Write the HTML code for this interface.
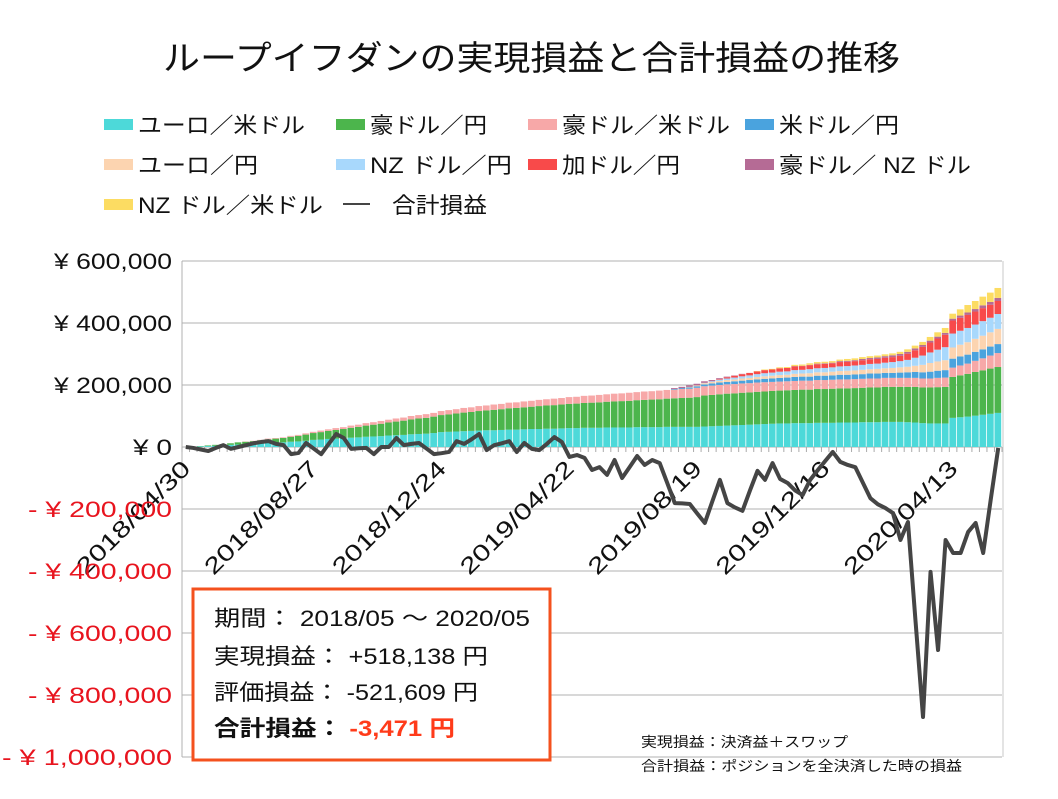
<!DOCTYPE html>
<html><head><meta charset="utf-8"><style>
body{margin:0;width:1058px;height:794px;background:#fff;overflow:hidden;font-family:"Liberation Sans","Noto Sans CJK JP",sans-serif;}
</style></head><body>
<svg id="chart" width="1058" height="794" xmlns="http://www.w3.org/2000/svg" font-family="Liberation Sans, Noto Sans CJK JP, sans-serif">
<text x="163" y="70" font-size="34" textLength="737" lengthAdjust="spacingAndGlyphs" fill="#111">ループイフダンの実現損益と合計損益の推移</text>
<g id="legend"></g>
<g id="grid"></g>
<g id="bars"></g>
<g id="xaxis"></g>
<g id="yaxis"></g>
<g id="line"></g>
<rect x="193" y="589" width="357" height="171" fill="#fff" stroke="#f4511e" stroke-width="3"/>
<text x="214" y="626" font-size="22" textLength="316" lengthAdjust="spacingAndGlyphs" fill="#111">期間： 2018/05 ～ 2020/05</text>
<text x="214" y="664" font-size="22" textLength="274" lengthAdjust="spacingAndGlyphs" fill="#111">実現損益： +518,138 円</text>
<text x="214" y="700" font-size="22" textLength="264" lengthAdjust="spacingAndGlyphs" fill="#111">評価損益： -521,609 円</text>
<text x="214" y="736" font-size="22" font-weight="bold" textLength="241" lengthAdjust="spacingAndGlyphs" fill="#111">合計損益： <tspan fill="#ff3b1a">-3,471 円</tspan></text>
<text x="641" y="747" font-size="14" textLength="207" lengthAdjust="spacingAndGlyphs" fill="#111">実現損益：決済益＋スワップ</text>
<text x="641" y="771" font-size="14" textLength="321" lengthAdjust="spacingAndGlyphs" fill="#111">合計損益：ポジションを全決済した時の損益</text>
</svg>
<script>
const seriesNames=["ユーロ／米ドル","豪ドル／円","豪ドル／米ドル","米ドル／円","ユーロ／円","NZ ドル／円","加ドル／円","豪ドル／ NZ ドル","NZ ドル／米ドル"];
const seriesColors=["#4dd9d9","#4cb54c","#f7a8a8","#4aa3de","#fcd4b0","#a8d8fc","#f84a4a","#b56b95","#fcdc62"];
const eurusd=[0,1,2,3,4,5,7,8,9,10,12,13,14,15,17,18,20,23,24,26,27,28,30,31,33,34,35,37,38,39,41,42,43,45,48,49,50,51,52,53,54,54,55,56,56,57,58,58,59,59,60,61,61,62,62,62,63,63,63,63,64,64,64,64,65,65,65,65,65,66,67,68,69,70,71,72,73,74,75,76,76,77,77,77,78,78,78,79,79,79,80,80,80,81,81,81,80,79,77,76,76,76,94,96,98,101,104,107,110];
const audjpy=[0,0,1,2,3,4,5,7,8,9,10,12,13,14,16,18,20,22,24,26,28,30,32,34,36,38,40,42,44,46,48,50,51,53,55,56,58,60,61,63,64,66,67,69,70,71,72,74,75,76,77,78,79,80,81,82,83,84,85,86,87,88,89,90,91,92,93,94,96,100,101,102,103,103,104,104,105,105,106,106,107,107,108,108,109,109,110,110,110,111,111,112,112,113,113,113,114,115,115,116,117,118,132,135,138,141,143,146,148];
const audusd=[0,0,0,0,0,0,0,0,1,1,1,2,2,2,3,3,4,4,5,5,6,6,7,7,8,8,9,9,10,10,11,11,12,12,13,14,14,15,15,16,16,17,17,18,18,19,19,20,20,21,21,22,22,23,23,24,24,25,25,26,26,27,27,28,28,28,29,29,30,30,30,30,30,30,30,30,30,30,29,29,29,29,29,29,29,29,29,29,29,29,29,29,29,29,29,29,29,29,29,29,30,30,30,32,33,36,39,42,45,48];
const usdjpy=[0,0,0,0,0,0,0,0,0,0,0,0,0,0,0,0,0,0,0,0,0,0,0,0,0,0,0,0,0,0,0,0,0,0,0,0,0,0,0,0,0,0,0,0,0,0,0,0,0,0,0,0,0,0,0,0,0,0,0,0,0,0,0,0,0,2,3,4,5,6,7,8,8,9,9,10,10,11,11,12,12,13,13,13,14,14,14,15,15,15,15,16,16,16,16,17,18,19,20,22,23,24,29,29,29,29,29,29,29];
const eurjpy=[0,0,0,0,0,0,0,0,0,0,0,0,0,0,0,0,0,0,0,0,0,0,0,0,0,0,0,0,0,0,0,0,0,0,0,0,0,0,0,0,0,0,0,0,0,0,0,0,0,0,0,0,0,0,0,0,0,0,0,0,0,0,0,0,0,0,0,2,3,4,5,5,6,6,7,7,8,8,9,9,9,10,10,11,11,11,12,12,13,13,14,14,15,15,16,17,18,20,24,28,30,32,36,38,40,42,44,46,49];
const nzdjpy=[0,0,0,0,0,0,0,0,0,0,0,0,0,0,0,0,0,0,0,0,0,0,0,0,0,0,0,0,0,0,0,0,0,0,0,0,0,0,0,0,0,0,0,0,0,0,0,0,0,0,0,0,0,0,0,0,0,0,0,0,0,0,0,0,0,0,0,0,0,1,2,4,5,6,7,8,9,10,10,11,11,12,12,13,13,14,14,15,15,16,16,17,17,18,19,20,22,26,30,34,38,42,45,45,46,46,47,47,48];
const cadjpy=[0,0,0,0,0,0,0,0,0,0,0,0,0,0,0,0,0,0,0,0,0,0,0,0,0,0,0,0,0,0,0,0,0,0,0,0,0,0,0,0,0,0,0,0,0,0,0,0,0,0,0,0,0,0,0,0,0,0,0,0,0,0,0,0,0,0,0,0,0,0,0,2,4,6,7,8,9,10,10,11,11,12,12,13,13,13,13,14,14,14,15,15,15,16,16,17,20,24,28,32,36,40,42,42,42,42,42,42,42];
const audnzd=[0,0,0,0,0,0,0,0,0,0,0,0,0,0,0,0,0,0,0,0,0,0,0,0,0,0,0,0,0,0,0,0,0,0,0,0,0,0,0,0,0,0,0,0,0,0,0,0,0,0,0,0,0,0,0,0,0,0,0,0,0,0,0,0,0,3,4,5,5,5,4,3,2,1,1,0,0,0,0,0,0,1,1,1,2,2,2,3,3,3,4,4,5,5,6,6,6,6,6,6,6,6,6,7,8,8,9,9,10];
const nzdusd=[0,0,0,0,0,0,0,0,0,0,0,0,0,0,0,0,0,0,0,0,0,0,0,0,0,0,0,0,0,0,0,0,0,0,0,0,0,0,0,0,0,0,0,0,0,0,0,0,0,0,0,0,0,0,0,0,0,0,0,0,0,0,0,0,0,0,0,0,0,0,0,0,0,0,0,0,1,2,2,3,3,4,4,5,5,5,5,5,6,6,6,6,6,6,6,7,8,9,10,12,14,16,16,20,24,26,28,30,32];
const totalPL=[0,-3,-8,-13,-3,6,-6,0,6,12,16,19,10,6,-23,-19,13,-5,-23,10,42,29,-6,-4,-3,-23,0,0,29,6,10,13,-5,-23,-20,-16,19,10,25,42,-10,6,12,19,-16,13,-6,-10,10,32,16,-32,-26,-35,-74,-65,-90,-42,-100,-65,-29,-58,-42,-52,-116,-181,-182,-184,-215,-245,-175,-106,-181,-195,-206,-140,-77,-106,-52,-103,-116,-140,-155,-106,-75,-45,-16,-48,-58,-65,-115,-165,-185,-197,-213,-300,-242,-560,-871,-403,-655,-300,-342,-342,-274,-245,-342,-170,-3];
const yTicks=[600,400,200,0,-200,-400,-600,-800,-1000];
const yTickLabels=["¥ 600,000","¥ 400,000","¥ 200,000","¥ 0","- ¥ 200,000","- ¥ 400,000","- ¥ 600,000","- ¥ 800,000","- ¥ 1,000,000"];
const xLabelIdx=[0,17,34,51,68,85,102];
const xLabels=["2018/04/30","2018/08/27","2018/12/24","2019/04/22","2019/08/19","2019/12/16","2020/04/13"];

const series=[eurusd,audjpy,audusd,usdjpy,eurjpy,nzdjpy,cadjpy,audnzd,nzdusd];
const NS="http://www.w3.org/2000/svg";
const X0=182,X1=1002,n=totalPL.length,bw=(X1-X0)/n;
const yScale=v=>447-v*62/200;
const xScale=i=>X0+(i+0.5)*bw;
function mk(tag,attrs,parent){const e=document.createElementNS(NS,tag);for(const k in attrs)e.setAttribute(k,attrs[k]);parent.appendChild(e);return e;}
const grid=document.getElementById('grid'),yaxis=document.getElementById('yaxis');
yTicks.forEach((v,k)=>{
  const l=mk('line',{x1:X0,x2:X1,y1:yScale(v),y2:yScale(v),stroke:'#b0b0b0','stroke-width':1},grid);
  
  
  const lab=yTickLabels[k];
  const t=mk('text',{x:172,y:yScale(v)+8,'font-size':22,'text-anchor':'end',textLength:(13.1*lab.length).toFixed(0),lengthAdjust:'spacingAndGlyphs',fill:v<0?'#e8141e':'#111'},yaxis);
  t.textContent=lab;
  
  
});
const vb=mk('line',{x1:X0,x2:X0,y1:261,y2:757,stroke:'#b0b0b0'},grid);


const rb=mk('line',{x1:X1+1,x2:X1+1,y1:261,y2:757,stroke:'#c8c8c8'},grid);


const bars=document.getElementById('bars');
for(let i=0;i<n;i++){
  let acc=0;
  series.forEach((s,si)=>{
    const v=s[i];if(v<=0)return;
    const r=mk('rect',{x:X0+i*bw,y:yScale(acc+v),width:bw-0.8,height:yScale(acc)-yScale(acc+v),fill:seriesColors[si]},bars);
    
    
    acc+=v;
  });
}
const xaxis=document.getElementById('xaxis');
for(let i=0;i<=n;i++){
  const t=mk('line',{x1:X0+i*bw,x2:X0+i*bw,y1:447,y2:452,stroke:'#aaa'},xaxis);
  
  
}
xLabelIdx.forEach((idx,k)=>{
  const x=xScale(idx)+6,y=470;
  const t=mk('text',{x:x,y:y,'font-size':23,'text-anchor':'end',textLength:150,lengthAdjust:'spacingAndGlyphs',fill:'#111',transform:`rotate(-45 ${x} ${y})`},xaxis);
  t.textContent=xLabels[k];
  
  
});
const line=document.getElementById('line');
const p=mk('polyline',{points:totalPL.map((v,i)=>xScale(i)+','+yScale(v)).join(' '),fill:'none',stroke:'#454545','stroke-width':4,'stroke-linejoin':'round'},line);


const legend=document.getElementById('legend');
const lx=[104,336,528,745],ly=[123,163,203];
const legendTextLen=[167,117,168,120,120,142,118,192,185,95];
const items=seriesNames.map((nm,i)=>({nm,c:seriesColors[i]})).concat([{nm:'合計損益',c:null}]);
items.forEach((it,i)=>{
  const col=i%4,row=Math.floor(i/4),x=lx[col],y=ly[row];
  if(it.c){
    const r=mk('rect',{x:x,y:y-4,width:29,height:11,fill:it.c},legend);
    
    
  }else{
    const r=mk('line',{x1:x+7,x2:x+34,y1:y+1,y2:y+1,stroke:'#454545','stroke-width':2},legend);
    
    
  }
  const t=mk('text',{x:it.c?x+34:x+56,y:y+10,'font-size':22,textLength:legendTextLen[i],lengthAdjust:'spacingAndGlyphs',fill:'#111'},legend);
  t.textContent=it.nm;
  
  
});
</script>
</body></html>
